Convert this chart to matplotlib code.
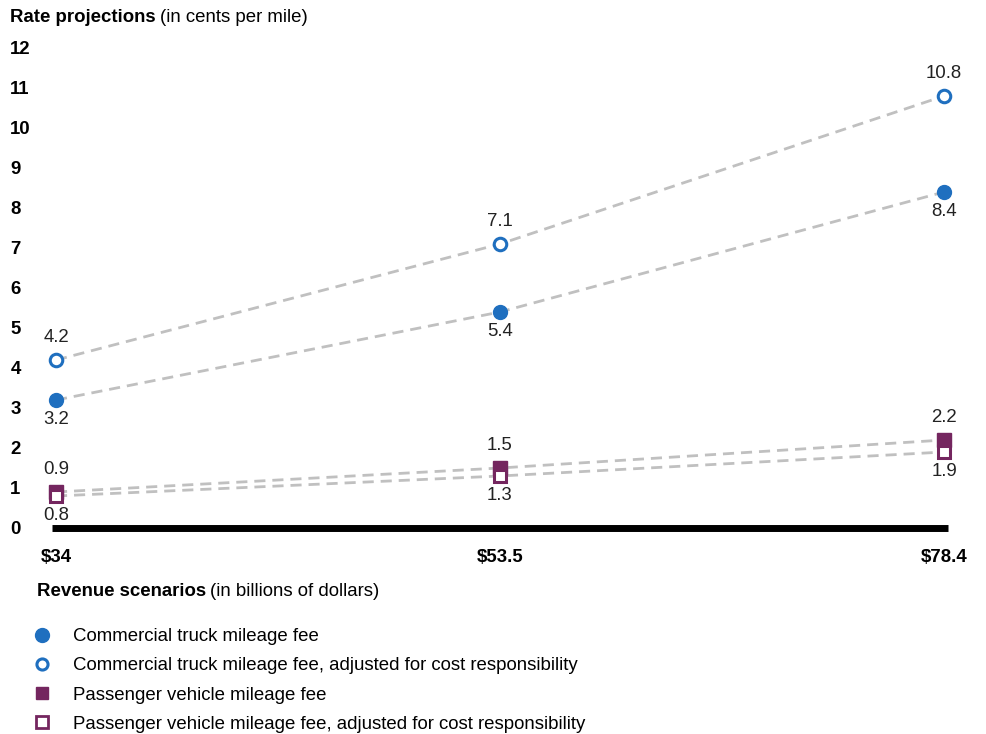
import matplotlib.pyplot as plt
from matplotlib.lines import Line2D

plt.rcParams['font.family'] = ['Liberation Sans', 'DejaVu Sans']

scenarios = ['$34', '$53.5', '$78.4']
truck_fee = [3.2, 5.4, 8.4]
truck_adj = [4.2, 7.1, 10.8]
pass_fee = [0.9, 1.5, 2.2]
pass_adj = [0.8, 1.3, 1.9]
legend_labels = ['Commercial truck mileage fee',
                 'Commercial truck mileage fee, adjusted for cost responsibility',
                 'Passenger vehicle mileage fee',
                 'Passenger vehicle mileage fee, adjusted for cost responsibility']

blue = '#1f6fbf'
purple = '#74265f'
dash = '#c0c0c0'
fs = 13.4

fig = plt.figure(figsize=(9.87, 7.34), dpi=100)
ax = fig.add_axes([52 / 987, 206 / 734, 896 / 987, 480 / 734])

x = list(range(len(scenarios)))

# dashed connecting lines
for vals in [truck_adj, truck_fee, pass_fee, pass_adj]:
    ax.plot(x, vals, color=dash, lw=2, ls=(0, (4, 2.5)), zorder=1)

ax.plot(x, truck_fee, 'o', ms=10, color=blue, ls='none', zorder=3, clip_on=False)
ax.plot(x, truck_adj, 'o', ms=9, mfc='white', mec=blue, mew=2.2, ls='none', zorder=3, clip_on=False)
ax.plot(x, pass_fee, 's', ms=10, color=purple, ls='none', zorder=3, clip_on=False)
ax.plot(x, pass_adj, 's', ms=8.5, mfc='white', mec=purple, mew=2.2, ls='none', zorder=4, clip_on=False)

# value labels: upper series above, lower series below
for above, below in [(truck_adj, truck_fee), (pass_fee, pass_adj)]:
    for i in x:
        ax.annotate(f'{above[i]:g}', (i, above[i]), xytext=(0, 16), textcoords='offset points',
                    ha='center', va='center', fontsize=fs, color='#222222')
        ax.annotate(f'{below[i]:g}', (i, below[i]), xytext=(0, -14), textcoords='offset points',
                    ha='center', va='center', fontsize=fs, color='#222222')

ax.set_xlim(-0.009, 2.009)
ax.set_ylim(0, 12)
ax.set_yticks(range(0, 13))
ax.set_yticklabels([str(v) for v in range(0, 13)], fontsize=fs, fontweight='bold', ha='left')
ax.tick_params(axis='y', length=0, pad=30)
ax.set_xticks(x)
ax.set_xticklabels(scenarios, fontsize=fs, fontweight='bold')
ax.tick_params(axis='x', length=0, pad=15)

for s in ['top', 'right', 'left']:
    ax.spines[s].set_visible(False)
ax.spines['bottom'].set_linewidth(5)
ax.spines['bottom'].set_color('black')
ax.spines['bottom'].set_capstyle('butt')

# titles with bold lead-in
fig.canvas.draw()
r = fig.canvas.get_renderer()
t1 = fig.text(10 / 987, 1 - 17 / 734, 'Rate projections', fontsize=fs, fontweight='bold', va='center')
bb = t1.get_window_extent(r)
fig.text((bb.x1 + 4) / 987, 1 - 17 / 734, '(in cents per mile)', fontsize=fs, va='center')
t2 = fig.text(37 / 987, 1 - 591 / 734, 'Revenue scenarios', fontsize=fs, fontweight='bold', va='center')
bb = t2.get_window_extent(r)
fig.text((bb.x1 + 4) / 987, 1 - 591 / 734, '(in billions of dollars)', fontsize=fs, va='center')

handles = [
    Line2D([], [], marker='o', ms=10, color=blue, ls='none'),
    Line2D([], [], marker='o', ms=8, mfc='white', mec=blue, mew=2.2, ls='none'),
    Line2D([], [], marker='s', ms=9, color=purple, ls='none'),
    Line2D([], [], marker='s', ms=8, mfc='white', mec=purple, mew=2, ls='none'),
]
fig.legend(handles, legend_labels, loc='upper left', bbox_to_anchor=(31 / 987, 1 - 628 / 734),
           frameon=False, fontsize=fs, handlelength=1.2, handletextpad=1.06,
           labelspacing=0.66, borderaxespad=0, borderpad=0)

fig.savefig('out.png', dpi=100)
